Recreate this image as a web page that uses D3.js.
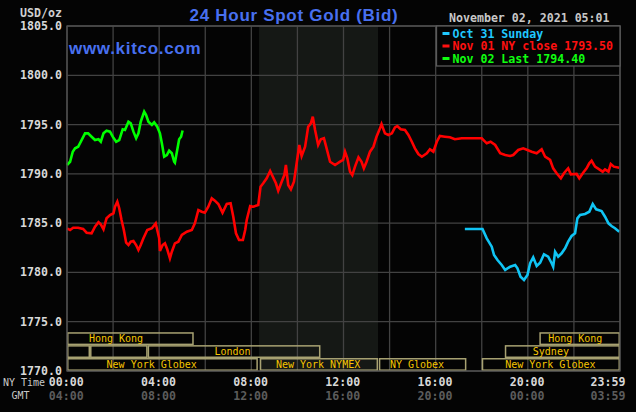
<!DOCTYPE html>
<html>
<head>
<meta charset="utf-8">
<script src="https://cdn.jsdelivr.net/npm/d3@7/dist/d3.min.js"></script>
<style>
html,body{margin:0;padding:0;background:#040404;}
svg{display:block;}
</style>
</head>
<body>
<svg id="c" width="636" height="412"></svg>
<script>
// ---------- DATA ----------
const titleText = "24 Hour Spot Gold (Bid)";
const siteText = "www.kitco.com";
const dateText = "November 02, 2021 05:01";
const unitText = "USD/oz";
const yTicks = [1770, 1775, 1780, 1785, 1790, 1795, 1800, 1805];
const xTickMinutes = [0, 240, 480, 720, 960, 1200, 1439];
const nyTimeLabels = ["00:00", "04:00", "08:00", "12:00", "16:00", "20:00", "23:59"];
const gmtLabels = ["04:00", "08:00", "12:00", "16:00", "20:00", "00:00", "03:59"];
const legendLabels = ["Oct 31 Sunday", "Nov 01 NY close 1793.50", "Nov 02 Last 1794.40"];
const nymexShade = [500, 810];
// sessions: [row, startMin, endMin, label, labelStartMin]
const sessions = [
  [0, 0, 330, "Hong Kong", 57],
  [0, 1230, 1440, "Hong Kong", 1253],
  [1, 0, 60, "", 0],
  [1, 60, 210, "", 0],
  [1, 210, 660, "London", 384],
  [1, 1140, 1440, "Sydney", 1213],
  [2, 0, 497, "New York Globex", 103],
  [2, 502, 810, "New York NYMEX", 544],
  [2, 812, 1040, "NY Globex", 841],
  [2, 1080, 1440, "New York Globex", 1141]
];
// Oct 31 (Sunday) [minute, price]
const oct31 = [[1036,1784.41],[1082,1784.41],[1093,1783.46],[1106,1782.61],[1112,1781.77],[1121,1781.26],[1132,1780.75],[1141,1780.25],[1154,1780.58],[1167,1780.75],[1173,1780.42],[1181,1779.57],[1190,1779.23],[1199,1779.74],[1206,1780.93],[1214,1781.53],[1223,1780.65],[1232,1780.99],[1242,1781.84],[1253,1781.60],[1262,1780.93],[1266,1780.58],[1271,1782.10],[1279,1781.60],[1288,1781.94],[1297,1782.45],[1305,1783.12],[1314,1783.70],[1323,1783.97],[1329,1785.49],[1336,1785.83],[1349,1785.93],[1360,1786.16],[1369,1786.94],[1378,1786.40],[1392,1786.23],[1401,1785.65],[1410,1784.98],[1418,1784.71],[1427,1784.48],[1438,1784.13]];
// Nov 01 [minute, price]
const nov01 = [[0,1784.48],[8,1784.30],[16,1784.54],[29,1784.54],[42,1784.41],[51,1784.03],[64,1783.97],[73,1784.64],[82,1785.09],[88,1784.88],[95,1784.38],[103,1785.49],[112,1785.83],[121,1786.00],[125,1786.67],[131,1787.18],[136,1786.51],[142,1785.32],[148,1784.30],[154,1783.02],[160,1782.78],[166,1783.12],[173,1783.19],[180,1782.78],[186,1782.28],[192,1782.78],[199,1783.46],[209,1784.30],[221,1784.48],[231,1784.98],[235,1784.30],[240,1783.46],[242,1782.17],[249,1782.78],[255,1782.95],[261,1782.35],[268,1781.43],[273,1782.10],[281,1782.95],[290,1783.12],[299,1783.80],[312,1784.13],[325,1784.30],[333,1784.98],[342,1786.33],[351,1786.16],[359,1786.06],[368,1786.67],[377,1787.52],[385,1787.28],[394,1786.94],[405,1786.06],[416,1786.94],[426,1787.01],[433,1785.65],[440,1783.97],[448,1783.29],[458,1783.29],[464,1784.30],[468,1785.32],[477,1786.74],[485,1786.67],[498,1786.84],[504,1788.70],[511,1789.04],[520,1789.55],[529,1790.29],[536,1789.71],[544,1789.04],[550,1788.29],[559,1789.20],[566,1789.88],[570,1790.90],[576,1788.87],[583,1788.43],[591,1789.20],[598,1791.07],[605,1792.93],[611,1791.81],[620,1792.75],[628,1794.78],[635,1795.13],[640,1795.80],[646,1794.45],[654,1792.93],[661,1793.51],[669,1793.61],[676,1792.59],[685,1791.23],[698,1790.90],[711,1791.23],[719,1791.41],[724,1792.25],[730,1791.58],[737,1790.22],[743,1789.88],[750,1790.73],[759,1791.68],[767,1791.23],[773,1790.56],[780,1791.23],[789,1792.25],[798,1792.75],[806,1793.77],[815,1794.62],[819,1795.06],[828,1794.11],[837,1793.94],[846,1794.11],[854,1794.72],[860,1794.85],[869,1794.52],[880,1794.45],[889,1793.94],[898,1793.26],[906,1792.59],[915,1792.01],[924,1791.74],[937,1792.09],[945,1792.49],[954,1792.25],[963,1793.26],[971,1793.84],[984,1793.77],[997,1793.71],[1010,1793.51],[1028,1793.61],[1080,1793.61],[1093,1793.10],[1103,1793.26],[1115,1792.93],[1128,1792.09],[1141,1791.91],[1154,1791.81],[1162,1791.91],[1175,1792.42],[1188,1792.59],[1199,1792.42],[1210,1792.25],[1223,1792.09],[1236,1792.49],[1245,1791.74],[1258,1791.41],[1266,1790.56],[1275,1790.06],[1286,1789.55],[1294,1790.06],[1301,1790.39],[1305,1790.56],[1312,1789.95],[1327,1789.99],[1334,1789.55],[1344,1790.12],[1353,1790.56],[1360,1791.07],[1366,1791.33],[1375,1790.73],[1386,1790.46],[1395,1790.22],[1401,1790.46],[1410,1790.22],[1416,1791.00],[1424,1790.73],[1438,1790.62]];
// Nov 02 [minute, price]
const nov02 = [[0,1790.90],[8,1791.23],[15,1792.25],[21,1792.59],[29,1792.75],[38,1793.43],[47,1794.11],[55,1794.11],[64,1793.77],[73,1793.43],[82,1793.51],[88,1793.26],[95,1794.11],[103,1794.38],[112,1794.28],[119,1793.77],[128,1793.26],[136,1793.43],[145,1794.52],[151,1794.45],[160,1795.29],[166,1795.13],[173,1794.28],[180,1793.61],[186,1794.11],[192,1795.29],[201,1796.31],[206,1795.97],[212,1795.29],[221,1794.96],[227,1795.23],[235,1794.78],[242,1794.11],[247,1793.10],[253,1791.74],[260,1791.91],[266,1792.35],[273,1792.09],[279,1791.23],[281,1791.13],[287,1792.42],[292,1793.51],[297,1793.77],[301,1794.40]];

// ---------- LAYOUT ----------
const L = 67, R = 620, T = 26, B = 371;
const svg = d3.select("#c");
const x = d3.scaleLinear().domain([0, 1440]).range([L, R]);
const y = d3.scaleLinear().domain([1770, 1805]).range([B, T]);
const mono = "'DejaVu Sans Mono', 'Liberation Mono', monospace";
const sans = "'Liberation Sans', Arial, sans-serif";

svg.append("rect").attr("width", 636).attr("height", 412).attr("fill", "#040404");

// NYMEX shade
svg.append("rect")
  .attr("x", x(nymexShade[0])).attr("y", T)
  .attr("width", x(nymexShade[1]) - x(nymexShade[0])).attr("height", B - T)
  .attr("fill", "#151815");

// grid
const grid = svg.append("g").attr("stroke", "#424242").attr("stroke-width", 1.3);
yTicks.forEach(v => {
  grid.append("line").attr("x1", L).attr("x2", R).attr("y1", y(v)).attr("y2", y(v));
});
d3.range(0, 1441, 120).forEach(m => {
  grid.append("line").attr("x1", x(m)).attr("x2", x(m)).attr("y1", T).attr("y2", B);
});

// session boxes
const rowH = (B - y(1775) - 4) / 3;
const rowTop = r => y(1775) + 10.5 + r * 12.9;
const rowHeight = 12.9;
const sg = svg.append("g");
sessions.forEach(s => {
  const [r, a, b, label, ls] = s;
  sg.append("rect")
    .attr("x", x(a) + 0.75).attr("y", rowTop(r) + 0.75)
    .attr("width", Math.min(x(b), R) - x(a) - 1.5).attr("height", rowHeight - 1.5)
    .attr("fill", "none").attr("stroke", "#a8a272").attr("stroke-width", 1.5);
  if (label) {
    sg.append("text")
      .attr("x", x(ls)).attr("y", rowTop(r) + rowHeight / 2 + 0.5)
      .attr("dominant-baseline", "middle")
      .attr("font-family", mono).attr("font-size", 10)
      .attr("fill", "#f5c400").text(label);
  }
});

// series lines
const line = d3.line().x(d => x(d[0])).y(d => y(d[1]));
const series = [
  {data: oct31, color: "#10c4f4"},
  {data: nov01, color: "#ff0000"},
  {data: nov02, color: "#00ff00"}
];
series.forEach(s => {
  svg.append("path").datum(s.data).attr("d", line)
    .attr("fill", "none").attr("stroke", s.color)
    .attr("stroke-width", 2.6).attr("stroke-linejoin", "miter");
});

// plot frame
svg.append("rect").attr("x", L).attr("y", T).attr("width", R - L).attr("height", B - T)
  .attr("fill", "none").attr("stroke", "#505050").attr("stroke-width", 1.3);

// legend
const lg = svg.append("g");
lg.append("rect").attr("x", 436.5).attr("y", T).attr("width", R - 436.5).attr("height", 40)
  .attr("fill", "#040404").attr("stroke", "#5a5a5a").attr("stroke-width", 1.3);
const legendColors = ["#20c8ff", "#ff1010", "#10ff10"];
legendLabels.forEach((t, i) => {
  const cy = 33.5 + i * 12.5;
  lg.append("rect").attr("x", 442.5).attr("y", cy - 1.5).attr("width", 7).attr("height", 3)
    .attr("fill", legendColors[i]);
  lg.append("text").attr("x", 452.5).attr("y", cy + 0.5).attr("dominant-baseline", "middle")
    .attr("font-family", mono).attr("font-size", 11.6).attr("font-weight", "bold")
    .attr("fill", legendColors[i]).text(t);
});

// date
svg.append("text").attr("x", 449).attr("y", 18).attr("dominant-baseline", "middle")
  .attr("font-family", mono).attr("font-size", 11.6).attr("font-weight", "bold")
  .attr("fill", "#c8c8c8").text(dateText);

// title
svg.append("text").attr("x", 294).attr("y", 20.5).attr("text-anchor", "middle")
  .attr("font-family", sans).attr("font-size", 17).attr("font-weight", "bold")
  .attr("letter-spacing", 0.7).attr("fill", "#4870f0").text(titleText);
svg.append("text").attr("x", 69).attr("y", 54)
  .attr("font-family", sans).attr("font-size", 17).attr("font-weight", "bold")
  .attr("letter-spacing", 0.7).attr("fill", "#4870f0").text(siteText);

// y axis labels
svg.append("text").attr("x", 62).attr("y", 13).attr("text-anchor", "end")
  .attr("dominant-baseline", "middle")
  .attr("font-family", mono).attr("font-size", 11.6).attr("font-weight", "bold")
  .attr("fill", "#d0d0d0").text(unitText);
yTicks.forEach(v => {
  svg.append("text").attr("x", 62).attr("y", y(v) + 0.5).attr("text-anchor", "end")
    .attr("dominant-baseline", "middle")
    .attr("font-family", mono).attr("font-size", 11.6).attr("font-weight", "bold")
    .attr("fill", "#d8d8d8").text(d3.format(".1f")(v));
});

// x axis labels
svg.append("text").attr("x", 3).attr("y", 382.5).attr("dominant-baseline", "middle")
  .attr("font-family", mono).attr("font-size", 10).attr("fill", "#c8c8c8").text("NY Time");
svg.append("text").attr("x", 11.5).attr("y", 396).attr("dominant-baseline", "middle")
  .attr("font-family", mono).attr("font-size", 10).attr("fill", "#c8c8c8").text("GMT");
xTickMinutes.forEach((m, i) => {
  const last = i === xTickMinutes.length - 1;
  const px = last ? 625.5 : x(m) - 0.7;
  const anchor = last ? "end" : "middle";
  svg.append("text").attr("x", px).attr("y", 382.5).attr("text-anchor", anchor)
    .attr("dominant-baseline", "middle")
    .attr("font-family", mono).attr("font-size", 11.6).attr("font-weight", "bold")
    .attr("fill", "#d8d8d8").text(nyTimeLabels[i]);
  svg.append("text").attr("x", px).attr("y", 396.5).attr("text-anchor", anchor)
    .attr("dominant-baseline", "middle")
    .attr("font-family", mono).attr("font-size", 11.6).attr("font-weight", "bold")
    .attr("fill", "#5c5c5c").text(gmtLabels[i]);
});
</script>
</body>
</html>
